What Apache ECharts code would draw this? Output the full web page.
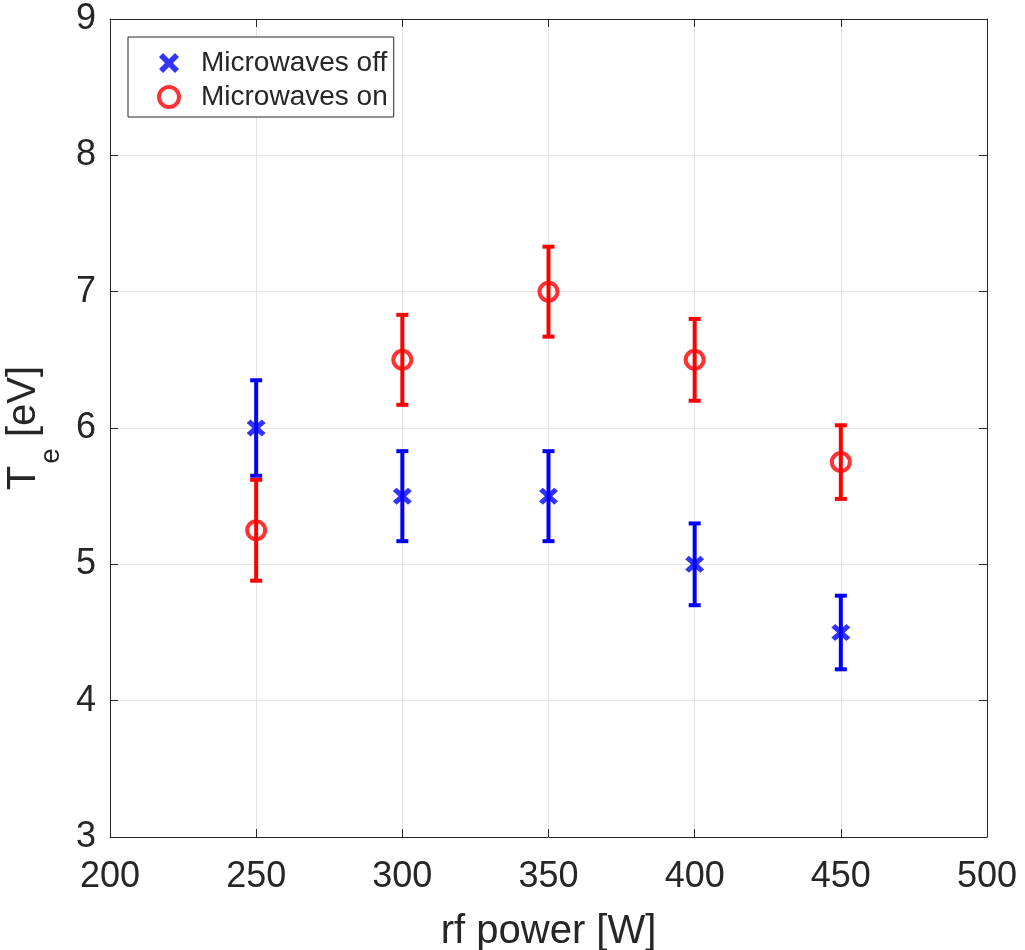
<!DOCTYPE html>
<html>
<head>
<meta charset="utf-8">
<script src="https://cdn.jsdelivr.net/npm/echarts@6/dist/echarts.min.js"></script>
<style>html,body{margin:0;padding:0;background:#fff}#c{width:1025px;height:950px}</style>
</head>
<body>
<div id="c"></div>
<script>
const powers = [250, 300, 350, 400, 450];
const offValues = [6.0, 5.5, 5.5, 5.0, 4.5];
const offErrors = [0.35, 0.33, 0.33, 0.30, 0.27];
const onValues = [5.25, 6.5, 7.0, 6.5, 5.75];
const onErrors = [0.37, 0.33, 0.33, 0.30, 0.27];
const xTicks = [200, 250, 300, 350, 400, 450, 500];
const yTicks = [3, 4, 5, 6, 7, 8, 9];

const BLUE = '#0000ff', RED = '#ff0000', AX = '#262626';
const FONT = "'Liberation Sans', Arial, Helvetica, sans-serif";
const xPath = 'path://M0,2 L2,0 L5,3 L8,0 L10,2 L7,5 L10,8 L8,10 L5,7 L2,10 L0,8 L3,5 Z';

function errData(xs, vs, es) { return xs.map((x, i) => [x, vs[i] - es[i], vs[i] + es[i]]); }
function errRender(color) {
  return function (params, api) {
    const x = api.value(0);
    const lo = api.coord([x, api.value(1)]);
    const hi = api.coord([x, api.value(2)]);
    const hw = 6;
    const st = { stroke: color, lineWidth: 4, lineCap: 'butt' };
    return { type: 'group', children: [
      { type: 'line', shape: { x1: lo[0], y1: lo[1], x2: hi[0], y2: hi[1] }, style: st },
      { type: 'line', shape: { x1: lo[0] - hw, y1: lo[1], x2: lo[0] + hw, y2: lo[1] }, style: st },
      { type: 'line', shape: { x1: hi[0] - hw, y1: hi[1], x2: hi[0] + hw, y2: hi[1] }, style: st }
    ]};
  };
}

const chart = echarts.init(document.getElementById('c'), null, { renderer: 'canvas' });
const axisCommon = {
  axisLine: { show: true, onZero: false, lineStyle: { color: AX, width: 1 } },
  axisTick: { show: true, inside: true, length: 8, lineStyle: { color: AX, width: 1 } },
};
chart.setOption({
  animation: false,
  backgroundColor: '#fff',
  textStyle: { fontFamily: FONT },
  grid: { left: 110, right: 38, top: 19, bottom: 113, containLabel: false, outerBoundsMode: 'none' },
  legend: {
    orient: 'vertical', left: 128, top: 37,
    padding: [12, 6, 6, 29], itemGap: 6, itemWidth: 20, itemHeight: 20,
    backgroundColor: '#fff', borderColor: AX, borderWidth: 1, borderRadius: 0,
    textStyle: { fontSize: 28, color: AX, fontFamily: FONT, padding: [0, 0, 0, 17] },
    data: [
      { name: 'Microwaves off', icon: xPath, itemStyle: { color: BLUE } },
      { name: 'Microwaves on', icon: 'circle', itemStyle: { color: 'rgba(255,255,255,0)', borderColor: RED, borderWidth: 4 } }
    ]
  },
  xAxis: [
    Object.assign({
      type: 'value', min: 200, max: 500, interval: 50, position: 'bottom',
      name: 'rf power [W]', nameLocation: 'middle', nameGap: 75,
      nameTextStyle: { fontSize: 40, color: AX, fontFamily: FONT },
      axisLabel: { fontSize: 36, color: AX, margin: 22, fontFamily: FONT },
      splitLine: { show: true, lineStyle: { color: '#e3e3e3', width: 1 } }
    }, axisCommon),
    Object.assign({
      type: 'value', min: 200, max: 500, interval: 50, position: 'top',
      axisLabel: { show: false }, splitLine: { show: false }
    }, axisCommon)
  ],
  yAxis: [
    Object.assign({
      type: 'value', min: 3, max: 9, interval: 1, position: 'left',
      name: '{t|T}{s|e}{t| [eV]}', nameLocation: 'middle', nameGap: 5, nameRotate: 90,
      nameTextStyle: { color: AX, fontFamily: FONT,
        rich: { t: { fontSize: 40, color: AX, fontFamily: FONT, lineHeight: 40, verticalAlign: 'top' },
                s: { fontSize: 28, color: AX, fontFamily: FONT, lineHeight: 94, padding: [0, 0, 0, 2] } } },
      axisLabel: { fontSize: 36, color: AX, margin: 14, fontFamily: FONT },
      splitLine: { show: true, lineStyle: { color: '#e3e3e3', width: 1 } }
    }, axisCommon),
    Object.assign({
      type: 'value', min: 3, max: 9, interval: 1, position: 'right',
      axisLabel: { show: false }, splitLine: { show: false }
    }, axisCommon)
  ],
  series: [
    { type: 'custom', name: 'offErr', renderItem: errRender(BLUE), data: errData(powers, offValues, offErrors), z: 2 },
    { type: 'scatter', name: 'Microwaves off', data: powers.map((x, i) => [x, offValues[i]]),
      symbol: xPath, symbolSize: [19, 17], itemStyle: { color: BLUE }, z: 3 },
    { type: 'custom', name: 'onErr', renderItem: errRender(RED), data: errData(powers, onValues, onErrors), z: 4 },
    { type: 'scatter', name: 'Microwaves on', data: powers.map((x, i) => [x, onValues[i]]),
      symbol: 'circle', symbolSize: 18,
      itemStyle: { color: 'rgba(255,255,255,0)', borderColor: RED, borderWidth: 4 }, z: 5 }
  ]
});
</script>
</body>
</html>
